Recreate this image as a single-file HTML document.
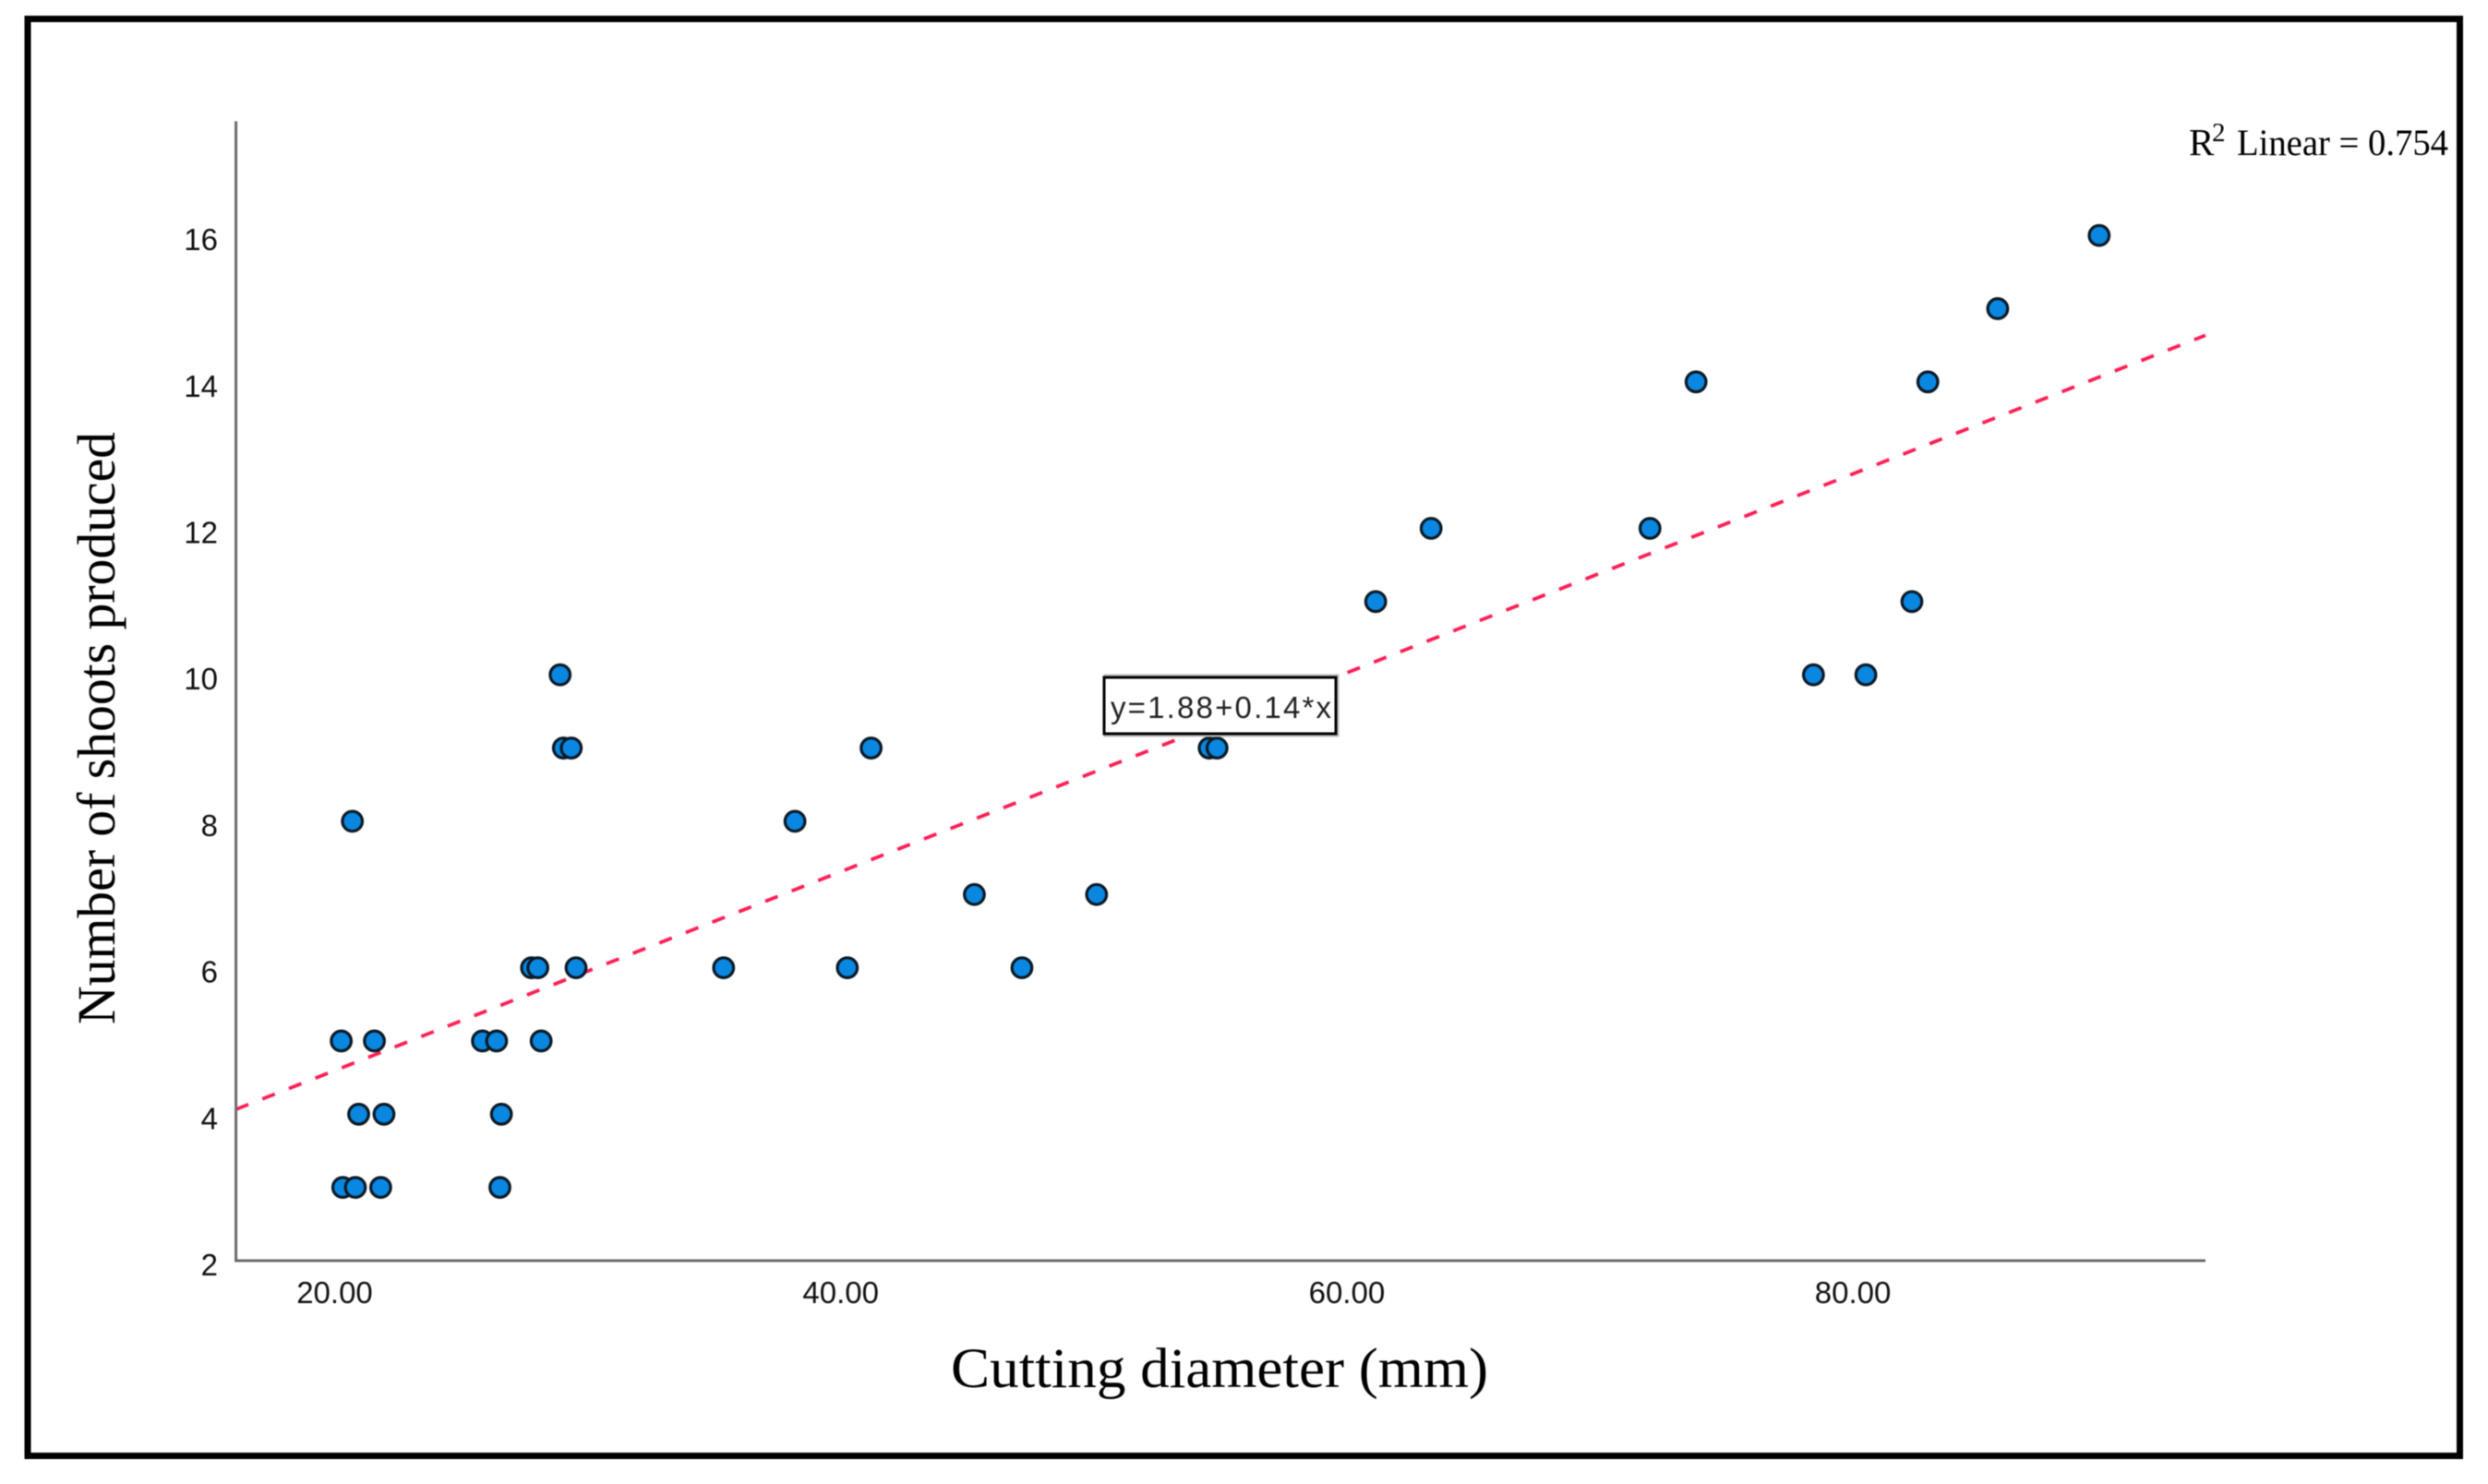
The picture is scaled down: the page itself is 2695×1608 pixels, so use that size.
<!DOCTYPE html>
<html lang="en">
<head>
<meta charset="utf-8">
<title>Cutting diameter vs shoots produced</title>
<style>
html,body{margin:0;padding:0;background:#fff;width:2695px;height:1608px;overflow:hidden}
svg{display:block;filter:blur(0.6px)}
.tick{font-family:"Liberation Sans",Arial,sans-serif;font-size:33px;fill:#111}
.serif{font-family:"Liberation Serif","Times New Roman",serif;fill:#000}
</style>
</head>
<body>
<svg id="chart" xmlns="http://www.w3.org/2000/svg" width="2695" height="1608" viewBox="0 0 2695 1608">
  <rect x="0" y="0" width="2695" height="1608" fill="#fff"/>
  <rect x="30" y="20.5" width="2634.5" height="1557" fill="none" stroke="#000" stroke-width="7"/>
  <g id="line-layer"></g>
  <g id="axis-layer"></g>
  <g id="point-layer"></g>
  <text class="serif" x="1030" y="1503" font-size="61" textLength="582" lengthAdjust="spacingAndGlyphs">Cutting diameter (mm)</text>
  <text class="serif" x="0" y="0" font-size="58" textLength="642" lengthAdjust="spacingAndGlyphs" transform="translate(124 1110) rotate(-90)">Number of shoots produced</text>
  <text class="serif" x="2371" y="168" font-size="41">R</text>
  <text class="serif" x="2396" y="153" font-size="29">2</text>
  <text class="serif" x="2423" y="168" font-size="40" textLength="229" lengthAdjust="spacingAndGlyphs">Linear = 0.754</text>
  <g id="equation-label">
    <rect x="1197" y="732" width="252" height="65" fill="none" stroke="#bbb" stroke-width="3"/>
    <rect x="1196" y="734" width="251" height="61" fill="#fff" stroke="#000" stroke-width="3"/>
    <text id="equation-text" x="1203" y="778" font-family="Liberation Sans, Arial, sans-serif" font-size="33" fill="#222" textLength="239" lengthAdjust="spacing"></text>
  </g>
</svg>
<script>
const diameterValues = [20.26,21.57,25.84,26.40,28.16,20.95,21.95,26.59,20.32,20.82,21.82,26.53,20.70,28.91,29.04,29.35,27.78,28.03,29.54,35.37,40.26,47.16,38.19,41.20,45.28,50.11,54.56,54.87,61.14,63.33,71.98,73.80,78.44,80.51,82.33,82.96,85.72,89.73];
const shootValues = [5,5,5,5,5,4,4,4,3,3,3,3,8,10,9,9,6,6,6,6,6,6,8,9,7,7,9,9,11,12,12,14,10,10,11,14,15,16];
const xTickLabels = ["20.00","40.00","60.00","80.00"];
const yTickLabels = ["2","4","6","8","10","12","14","16"];
const fitIntercept = [1.88];
const fitSlope = [0.1358];
const xDomain = [16.1, 93.93];
const yTop = [17.56];

const NS = 'http://www.w3.org/2000/svg';
function xScale(v){ return 362.5 + (v - 20) * 27.41; }
function yScale(v){ return 1366 - (v - 2) * 79.35; }
function make(tag, attrs, parent){
  const el = document.createElementNS(NS, tag);
  for (const k in attrs) el.setAttribute(k, attrs[k]);
  parent.appendChild(el);
  return el;
}
const axisLayer = document.getElementById('axis-layer');
const lineLayer = document.getElementById('line-layer');
const pointLayer = document.getElementById('point-layer');

const yAxis = make('line', {x1:xScale(xDomain[0]), y1:yScale(yTop[0]), x2:xScale(xDomain[0]), y2:yScale(2)+1.5, stroke:'#6a6a6a', 'stroke-width':3}, axisLayer);


const xAxis = make('line', {x1:xScale(xDomain[0]), y1:yScale(2), x2:xScale(xDomain[1]), y2:yScale(2), stroke:'#6a6a6a', 'stroke-width':3}, axisLayer);



xTickLabels.forEach(function(label){
  const t = make('text', {x:xScale(parseFloat(label)), y:1412, 'text-anchor':'middle', class:'tick'}, axisLayer);
  t.textContent = label;
  
  
});
yTickLabels.forEach(function(label){
  const t = make('text', {x:236, y:yScale(parseFloat(label))+16, 'text-anchor':'end', class:'tick'}, axisLayer);
  t.textContent = label;
  
  
});

function fit(x){ return fitIntercept[0] + fitSlope[0] * x; }
const fitLine = make('line', {x1:xScale(xDomain[0]), y1:yScale(fit(xDomain[0])), x2:xScale(xDomain[1]), y2:yScale(fit(xDomain[1])), stroke:'#ff1f55', 'stroke-width':3.8, 'stroke-dasharray':'14.5 16.3'}, lineLayer);



diameterValues.forEach(function(d, i){
  const c = make('circle', {cx:xScale(d), cy:yScale(shootValues[i]), r:10.8, fill:'#0a87e0', stroke:'#0b1a26', 'stroke-width':3.2}, pointLayer);
  
  
});

document.getElementById('equation-text').textContent = 'y=' + fitIntercept[0].toFixed(2) + '+' + fitSlope[0].toFixed(2) + '*x';
</script>
</body>
</html>
